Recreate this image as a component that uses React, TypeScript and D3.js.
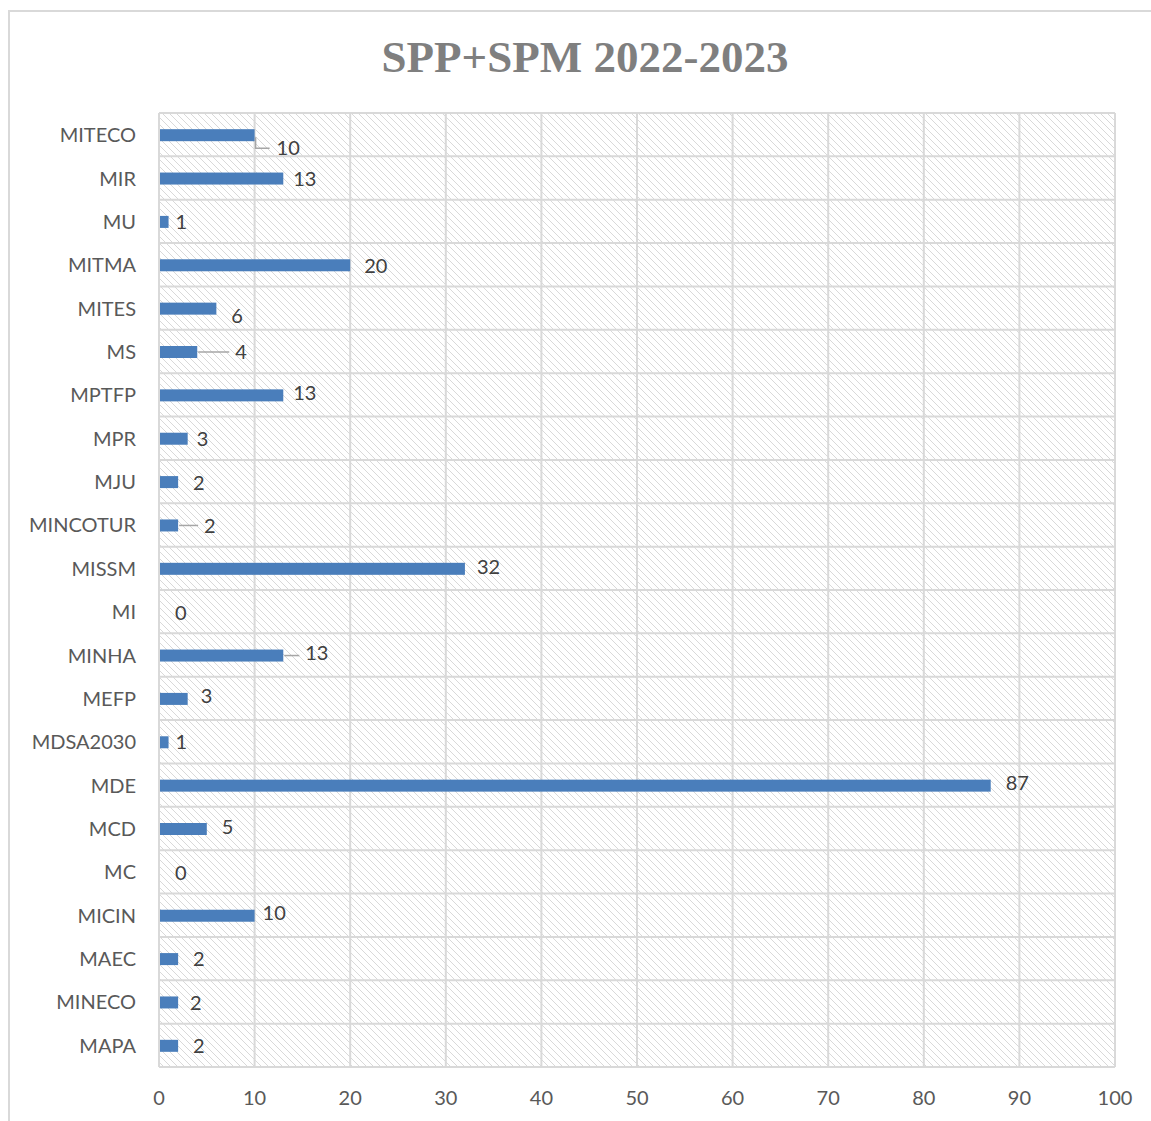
import React from 'react'
import * as d3 from 'd3'

const categories = ['MITECO','MIR','MU','MITMA','MITES','MS','MPTFP','MPR','MJU','MINCOTUR','MISSM','MI','MINHA','MEFP','MDSA2030','MDE','MCD','MC','MICIN','MAEC','MINECO','MAPA']
const values = [10,13,1,20,6,4,13,3,2,2,32,0,13,3,1,87,5,0,10,2,2,2]
const xTicks = [0,10,20,30,40,50,60,70,80,90,100]
// label nudges (px) as placed in the original, and which ones carry a leader line
const labelDx = [22,10,7,14,15,38,10,9,15,26,12,16,22,13,7,15,15,16,8,15,12,15]
const labelDy = [13,0,0,1,7,0,-2,0,1,1,-2,1,-3,-3,0,-3,-2,1,-3,0,1,0]
const leader = [true,false,false,false,false,true,false,false,false,true,false,false,true,false,false,false,false,false,false,false,false,false]

const W = 1151, H = 1121
const M = { left: 159, right: 1115, top: 113, bottom: 1067 }
const FONT = 'Lato, "Open Sans", sans-serif'

export default function App() {
  const x = d3.scaleLinear().domain([0, 100]).range([M.left, M.right])
  const y = d3.scaleBand().domain(categories).range([M.top, M.bottom])
  const barH = 12
  return (
    <svg width={W} height={H} style={{ position: 'absolute', left: 0, top: 0, background: '#fff' }}>
      <defs>
        <pattern id="hatch" width="7" height="7" patternUnits="userSpaceOnUse">
          <path d="M-1,-1 L8,8 M-1,6 L1,8 M6,-1 L8,1" stroke="#d9d9d9" strokeWidth="1" />
        </pattern>
      </defs>
      <rect x={9} y={11} width={W} height={H} fill="#fff" stroke="#d9d9d9" strokeWidth={2} />
      <text x={585} y={72} textAnchor="middle" fontFamily='"Liberation Serif", serif' fontWeight="bold" fontSize={45} fill="#7f7f7f">SPP+SPM 2022-2023</text>
      <rect x={M.left} y={M.top} width={M.right - M.left} height={M.bottom - M.top} fill="url(#hatch)" />
      {xTicks.map(t => (
        <line key={'v' + t} x1={x(t)} x2={x(t)} y1={M.top} y2={M.bottom} stroke="#d9d9d9" strokeWidth={2} />
      ))}
      {categories.map(c => (
        <line key={'h' + c} x1={M.left} x2={M.right} y1={y(c)!} y2={y(c)!} stroke="#d9d9d9" strokeWidth={2} />
      ))}
      <line x1={M.left} x2={M.right} y1={M.bottom} y2={M.bottom} stroke="#d9d9d9" strokeWidth={2} />
      {categories.map((c, i) => {
        const cy = y(c)! + y.bandwidth() / 2 + 0.5
        const x0 = M.left + 1
        const x1 = x(values[i])
        const lx = x1 + labelDx[i]
        const ly = cy + labelDy[i]
        return (
          <g key={c}>
            {values[i] > 0 && <rect x={x0} y={cy - barH / 2} width={x1 - x0} height={barH} fill="#4a7ebb" />}
            {leader[i] && (
              labelDy[i] > 3
                ? <polyline points={`${x1 + 1},${cy + 2} ${x1 + 1},${ly} ${lx - 7},${ly}`} fill="none" stroke="#a6a6a6" strokeWidth={1.5} />
                : <line x1={x1 + 1} x2={lx - 6} y1={cy} y2={cy} stroke="#a6a6a6" strokeWidth={1.5} />
            )}
            <text x={lx} y={ly} dy="0.35em" fontFamily={FONT} fontSize={20} fill="#404040">{values[i]}</text>
            <text x={136} y={cy} dy="0.35em" textAnchor="end" fontFamily={FONT} fontSize={20} fill="#595959">{c}</text>
          </g>
        )
      })}
      {xTicks.map(t => (
        <text key={'t' + t} x={x(t)} y={1098} dy="0.35em" textAnchor="middle" fontFamily={FONT} fontSize={20} fill="#595959">{t}</text>
      ))}
    </svg>
  )
}
